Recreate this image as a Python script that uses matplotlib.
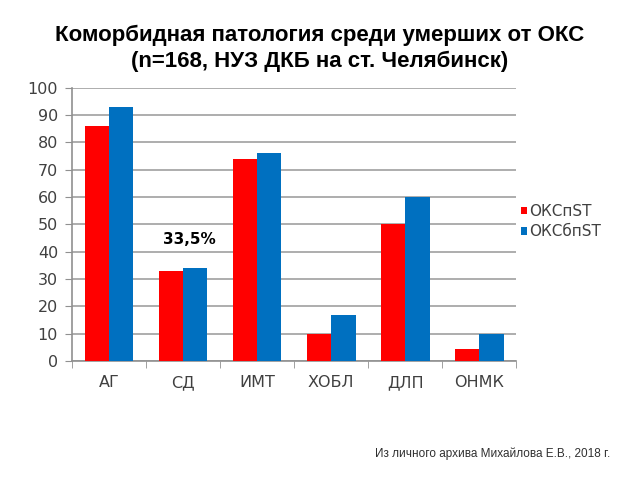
import numpy as np
import matplotlib.pyplot as plt

categories = ['АГ', 'СД', 'ИМТ', 'ХОБЛ', 'ДЛП', 'ОНМК']
oks_p_st = [86, 33, 74, 10, 50, 4.5]
oks_bp_st = [93, 34, 76, 17, 60, 10]
series_names = ['ОКСпST', 'ОКСбпST']

fig = plt.figure(figsize=(6.4, 4.8), dpi=100)
ax = fig.add_axes([0.1125, 0.248, 0.694, 0.569])

x = np.arange(len(categories))
w = 0.33
ax.bar(x - w / 2, oks_p_st, w, color='#ff0000', label=series_names[0], zorder=3)
ax.bar(x + w / 2, oks_bp_st, w, color='#0070c0', label=series_names[1], zorder=3)

ax.set_xlim(-0.5, len(categories) - 0.5)
ax.set_ylim(0, 100)
ax.set_yticks(range(0, 101, 10))
ax.yaxis.grid(True, color='#a0a0a0', linewidth=1.2, zorder=0)
ax.set_xticks(x)
ax.set_xticklabels(categories)
ax.set_xticks(np.arange(-0.5, len(categories), 1), minor=True)
ax.tick_params(axis='x', which='major', length=0, pad=10, labelsize=11.5, labelcolor='#404040')
ax.tick_params(axis='x', which='minor', length=5, color='#909090')
ax.tick_params(axis='y', length=5, color='#909090', labelsize=11.5, labelcolor='#404040', pad=5)

for s in ['top', 'right']:
    ax.spines[s].set_visible(False)
for s in ['left', 'bottom']:
    ax.spines[s].set_color('#909090')
    ax.spines[s].set_linewidth(1.2)

ax.text(1.09, 44.5, '33,5%', ha='center', va='center', fontsize=11, fontweight='bold')

ax.legend(loc='center left', bbox_to_anchor=(0.98, 0.51), frameon=False,
          fontsize=11, handlelength=0.4, handleheight=0.4, handletextpad=0.15,
          labelspacing=0.35, labelcolor='#404040')

fig.text(0.5, 0.927, 'Коморбидная патология среди умерших от ОКС',
         ha='center', va='center', fontsize=16, fontweight='bold',
         family=['Liberation Sans', 'DejaVu Sans'])
fig.text(0.5, 0.873, '(n=168, НУЗ ДКБ на ст. Челябинск)',
         ha='center', va='center', fontsize=16, fontweight='bold',
         family=['Liberation Sans', 'DejaVu Sans'])
fig.text(0.77, 0.055, 'Из личного архива Михайлова Е.В., 2018 г.',
         ha='center', va='center', fontsize=8.5, color='#303030',
         family=['Liberation Sans', 'DejaVu Sans'])

fig.savefig('out.png', dpi=100)
